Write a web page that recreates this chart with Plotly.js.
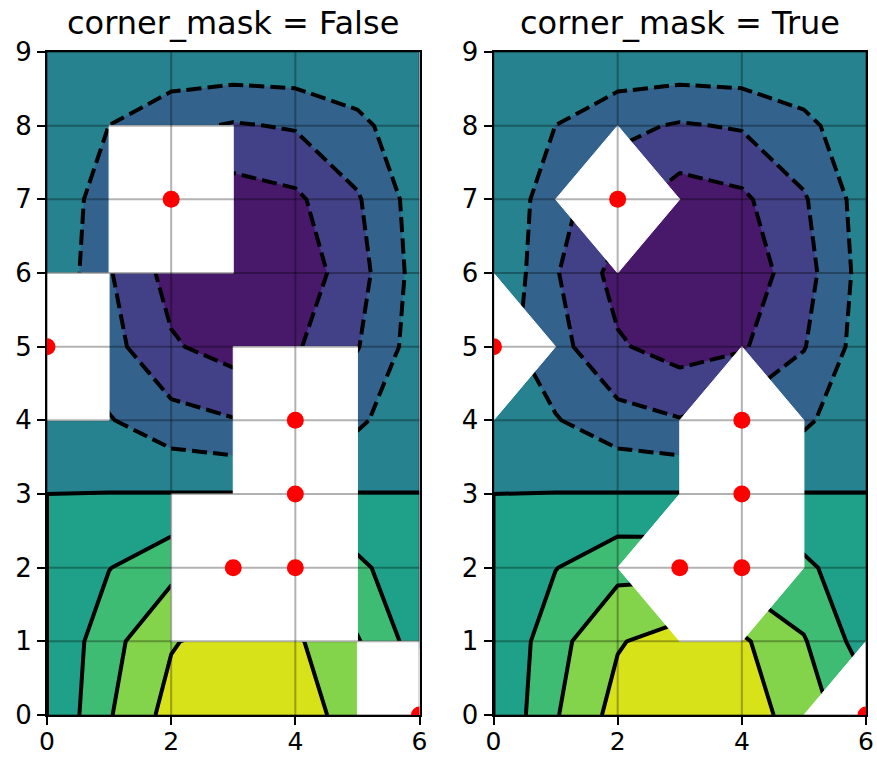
<!DOCTYPE html>
<html>
<head>
<meta charset="utf-8">
<script src="https://cdn.plot.ly/plotly-3.0.1.min.js"></script>
<style>
  html, body { margin: 0; padding: 0; background: #fff; }
  #chart { width: 877px; height: 757px; }
</style>
</head>
<body>
<div id="chart"></div>
<script>
// grid
const xVals = [0, 1, 2, 3, 4, 5, 6];
const yVals = [0, 1, 2, 3, 4, 5, 6, 7, 8, 9];

// z[y][x]; null = masked point (red dots)
const zRows = [
  [0, 0.4794, 0.8415, 0.9975, 0.9093, 0.5985, null],
  [0, 0.4160, 0.7303, 0.8656, 0.7891, 0.5194, 0.1224],
  [0, 0.2427, 0.4260, null, null, 0.3030, 0.0714],
  [0, 0.0052, 0.0091, 0.0108, null, 0.0065, 0.0015],
  [0, -0.2337, -0.4102, -0.4863, null, -0.2918, -0.0688],
  [null, -0.4108, -0.7211, -0.8548, -0.7792, -0.5129, -0.1209],
  [0, -0.4794, -0.8414, -0.9974, -0.9092, -0.5984, -0.1411],
  [0, -0.4211, null, -0.8762, -0.7987, -0.5257, -0.1239],
  [0, -0.2516, -0.4416, -0.5235, -0.4772, -0.3141, -0.0740],
  [0, -0.0155, -0.0273, -0.0323, -0.0295, -0.0194, -0.0046]
];

// contour levels (inner ones; bands run from -1 to 1)
const levels = [-0.75, -0.5, -0.25, 0, 0.25, 0.5, 0.75];
// viridis sampled at band centres
const bandColors = ['#48186a', '#424086', '#33638d', '#26828e', '#1fa088', '#3fbc73', '#84d44b', '#d8e219'];

const panelTitles = ['corner_mask = False', 'corner_mask = True'];
const cornerMasks = [false, true];
const xTicks = [0, 2, 4, 6];
const yTicks = [0, 1, 2, 3, 4, 5, 6, 7, 8, 9];

const FONT = 'DejaVu Sans, Liberation Sans, sans-serif';
const step = levels[1] - levels[0];
const colorscale = bandColors.map((c, i) => [i / (bandColors.length - 1), c]);

// white polygons where the contouring is masked out
function maskPolygons(cornerMask) {
  const px = [], py = [];
  for (let j = 0; j < yVals.length - 1; j++) {
    for (let i = 0; i < xVals.length - 1; i++) {
      const corners = [[i, j], [i + 1, j], [i + 1, j + 1], [i, j + 1]];
      const masked = corners.map(([a, b]) => zRows[b][a] === null);
      const n = masked.filter(Boolean).length;
      if (n === 0) continue;
      let poly = corners;
      if (cornerMask && n === 1) {
        const k = masked.indexOf(true);
        poly = [corners[(k + 3) % 4], corners[k], corners[(k + 1) % 4]];
      }
      poly.concat([poly[0]]).forEach(([a, b]) => { px.push(xVals[a]); py.push(yVals[b]); });
      px.push(null); py.push(null);
    }
  }
  return { x: px, y: py };
}

const maskedX = [], maskedY = [];
zRows.forEach((row, j) => row.forEach((v, i) => {
  if (v === null) { maskedX.push(xVals[i]); maskedY.push(yVals[j]); }
}));

const traces = [];
const annotations = [];
const layout = {
  width: 877, height: 757,
  margin: { l: 47, r: 11, t: 52, b: 42 },
  paper_bgcolor: 'white', plot_bgcolor: 'white',
  showlegend: false,
  font: { family: FONT, color: 'black' }
};

cornerMasks.forEach((cm, p) => {
  const xa = p === 0 ? 'x' : 'x2';
  const ya = p === 0 ? 'y' : 'y2';

  traces.push({
    type: 'contour', x: xVals, y: yVals, z: zRows, xaxis: xa, yaxis: ya,
    contours: { coloring: 'fill', start: levels[0], end: levels[levels.length - 1], size: step, showlines: false },
    line: { width: 0, smoothing: 0 },
    colorscale: colorscale, showscale: false, hoverinfo: 'skip'
  });
  // negative levels dashed
  traces.push({
    type: 'contour', x: xVals, y: yVals, z: zRows, xaxis: xa, yaxis: ya,
    contours: { coloring: 'none', start: levels[0], end: -step, size: step },
    line: { color: 'black', width: 4, dash: '15px,6px', smoothing: 0 },
    showscale: false, hoverinfo: 'skip'
  });
  // zero and positive solid
  traces.push({
    type: 'contour', x: xVals, y: yVals, z: zRows, xaxis: xa, yaxis: ya,
    contours: { coloring: 'none', start: 0, end: levels[levels.length - 1], size: step },
    line: { color: 'black', width: 4, smoothing: 0 },
    showscale: false, hoverinfo: 'skip'
  });

  const mp = maskPolygons(cm);
  traces.push({
    type: 'scatter', mode: 'lines', x: mp.x, y: mp.y, xaxis: xa, yaxis: ya,
    fill: 'toself', fillcolor: 'white', line: { color: 'white', width: 1 },
    hoverinfo: 'skip'
  });

  // grid on top of the fills
  const gvx = [], gvy = [];
  xTicks.forEach(t => { gvx.push(t, t, null); gvy.push(yTicks[0], yTicks[yTicks.length - 1], null); });
  const ghx = [], ghy = [];
  yTicks.forEach(t => { ghx.push(xTicks[0], xTicks[xTicks.length - 1], null); ghy.push(t, t, null); });
  [[gvx, gvy], [ghx, ghy]].forEach(([gx, gy]) => traces.push({
    type: 'scatter', mode: 'lines', x: gx, y: gy, xaxis: xa, yaxis: ya,
    line: { color: 'rgba(0,0,0,0.3)', width: 2 }, hoverinfo: 'skip'
  }));

  traces.push({
    type: 'scatter', mode: 'markers', x: maskedX, y: maskedY, xaxis: xa, yaxis: ya,
    marker: { color: '#ff0000', size: 17 }, cliponaxis: true, hoverinfo: 'skip'
  });

  const common = {
    ticks: 'outside', ticklen: 8, tickwidth: 2, tickcolor: 'black',
    showline: true, linecolor: 'black', linewidth: 2, mirror: true,
    showgrid: false, zeroline: false, fixedrange: true,
    tickfont: { family: FONT, size: 26, color: 'black' }
  };
  const w = 819, gap = 74;
  const dw = (w - gap) / 2 / w;
  layout[p === 0 ? 'xaxis' : 'xaxis2'] = Object.assign({}, common, {
    domain: p === 0 ? [0, dw] : [1 - dw, 1],
    range: [xTicks[0], xTicks[xTicks.length - 1]], tickvals: xTicks, anchor: ya,
    ticklabelstandoff: -5,
    tickfont: { family: FONT, size: 25, color: 'black' }
  });
  layout[p === 0 ? 'yaxis' : 'yaxis2'] = Object.assign({}, common, {
    domain: [0, 1],
    range: [yTicks[0], yTicks[yTicks.length - 1]], tickvals: yTicks, anchor: xa
  });

  annotations.push({
    text: panelTitles[p], showarrow: false,
    xref: xa + ' domain', yref: ya + ' domain', x: 0.5, y: 1,
    xanchor: 'center', yanchor: 'bottom', yshift: 8,
    font: { family: FONT, size: 32, color: 'black' }
  });
});

layout.annotations = annotations;

Plotly.newPlot('chart', traces, layout, { displayModeBar: false, staticPlot: true });
</script>
</body>
</html>
